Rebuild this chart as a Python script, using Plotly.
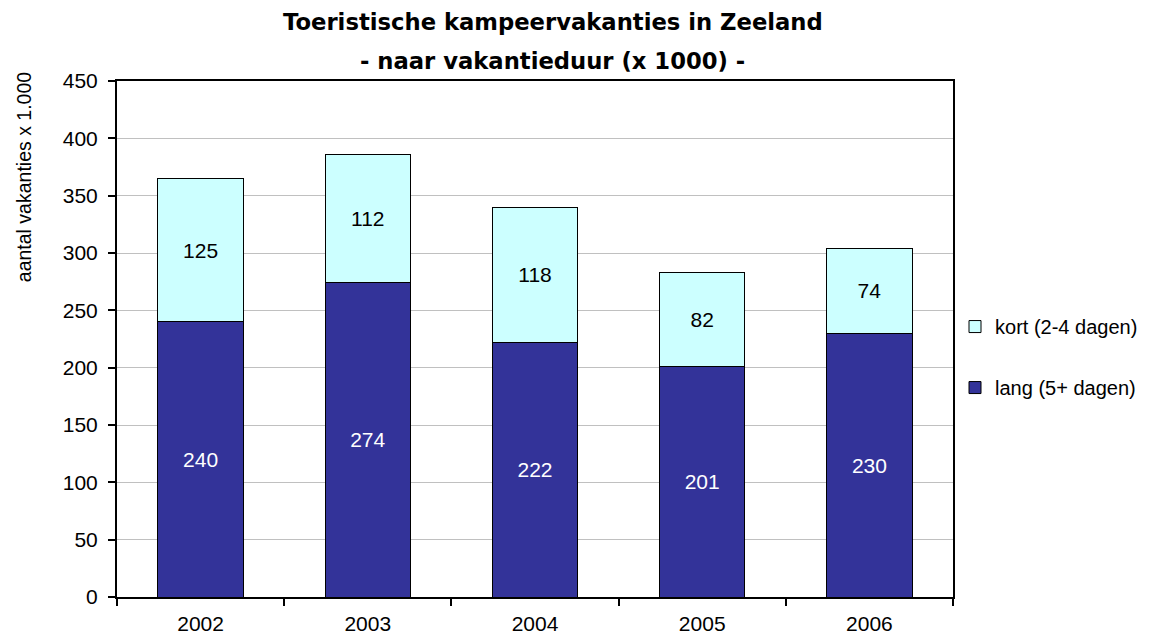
import plotly.graph_objects as go

years = ["2002", "2003", "2004", "2005", "2006"]
lang = [240, 274, 222, 201, 230]
kort = [125, 112, 118, 82, 74]

FONT = "Liberation Sans"
TFONT = "DejaVu Sans"

fig = go.Figure()
fig.add_trace(go.Bar(
    x=years, y=lang, name="lang (5+ dagen)", legendgroup="lang", legendrank=2,
    marker=dict(color="#333399", line=dict(color="black", width=1)),
    text=[str(v) for v in lang], textposition="inside", insidetextanchor="middle",
    textfont=dict(color="white", size=21, family=FONT), textangle=0,
))
fig.add_trace(go.Bar(
    x=years, y=kort, name="kort (2-4 dagen)", legendgroup="kort", legendrank=1,
    marker=dict(color="#CCFFFF", line=dict(color="black", width=1)),
    text=[str(v) for v in kort], textposition="inside", insidetextanchor="middle",
    textfont=dict(color="black", size=21, family=FONT), textangle=0,
))

fig.update_layout(
    width=1152, height=636,
    barmode="stack", bargap=0.49,
    paper_bgcolor="white", plot_bgcolor="white",
    margin=dict(l=117, r=199, t=81, b=39, autoexpand=False),
    font=dict(family=FONT, size=20, color="black"),
    showlegend=True,
    legend=dict(
        x=1.0024, xanchor="left", y=0.465, yanchor="middle",
        traceorder="grouped", tracegroupgap=32,
        font=dict(size=20, family=FONT),
        itemwidth=30,
    ),
    uniformtext=dict(mode=False),
    annotations=[
        dict(text="<b>Toeristische kampeervakanties in Zeeland</b>",
             xref="paper", yref="paper", x=0.5215, y=1.1143, xanchor="center", yanchor="middle",
             showarrow=False, font=dict(family=TFONT, size=22.7, color="black")),
        dict(text="<b>- naar vakantieduur (x 1000) -</b>",
             xref="paper", yref="paper", x=0.5215, y=1.0388, xanchor="center", yanchor="middle",
             showarrow=False, font=dict(family=TFONT, size=22.7, color="black")),
        dict(text="aantal vakanties x 1.000", textangle=-90,
             xref="paper", yref="paper", x=-0.111, y=0.814, xanchor="center", yanchor="middle",
             showarrow=False, font=dict(family=FONT, size=19.5, color="black")),
    ],
)
fig.update_xaxes(
    type="category", showline=True, linecolor="black", linewidth=2,
    ticks="outside", tickson="boundaries", ticklen=7, tickcolor="black", tickwidth=1.5,
    mirror=True, showgrid=False, tickfont=dict(size=21), automargin=False,
    ticklabelstandoff=7,
)
fig.update_yaxes(
    range=[0, 450], dtick=50, showline=True, linecolor="black", linewidth=2,
    ticks="outside", ticklen=7, tickcolor="black", tickwidth=1.5, mirror=True,
    showgrid=True, gridcolor="#c0c0c0", gridwidth=1,
    tickfont=dict(size=21), ticklabelstandoff=6, automargin=False,
)

fig.write_html("out.html", config={"displayModeBar": False},
               post_script="document.body.style.margin='0';document.body.style.overflow='hidden';")
